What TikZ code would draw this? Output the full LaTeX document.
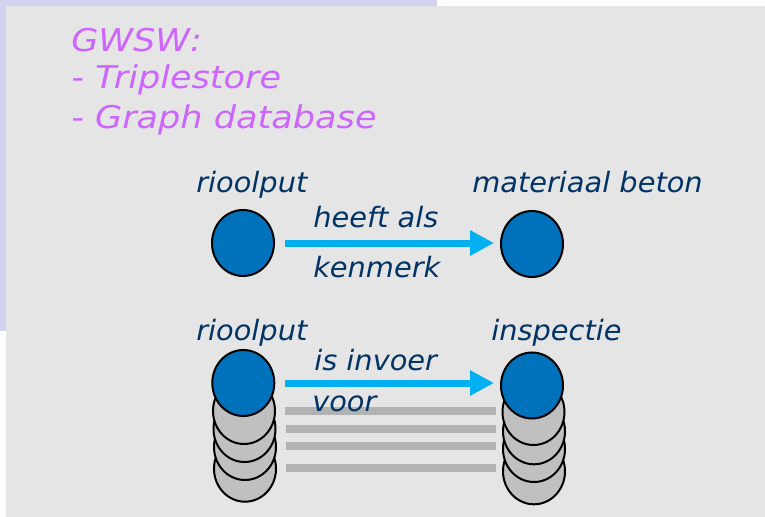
\documentclass[tikz,border=0pt]{standalone}
\usepackage{fontspec}
\newfontfamily\titlefont[FakeStretch=1.12]{DejaVu Sans}
\newfontfamily\lblfont[FakeStretch=1.03]{DejaVu Sans}
\usetikzlibrary{shapes.geometric,arrows.meta}
\definecolor{lav}{RGB}{210,210,240}
\definecolor{bg}{RGB}{229,229,229}
\definecolor{ttl}{RGB}{204,102,255}
\definecolor{lblc}{RGB}{0,51,102}
\definecolor{nodeblue}{RGB}{0,114,188}
\definecolor{arr}{RGB}{0,176,240}
\definecolor{stackgray}{RGB}{192,192,192}
\definecolor{bargray}{RGB}{178,178,178}
\begin{document}
\begin{tikzpicture}[x=0.75pt,y=-0.75pt,
  ttlnode/.style={anchor=base west, inner sep=0, text=ttl, font=\titlefont\itshape\fontsize{23.5pt}{28pt}\selectfont},
  lbl/.style={anchor=base west, inner sep=0, text=lblc, font=\lblfont\itshape\fontsize{21pt}{25pt}\selectfont},
  res/.style={ellipse, draw=black, line width=1.5pt, minimum width=46.5pt, minimum height=49.5pt, inner sep=0pt, fill=nodeblue},
  hist/.style={res, fill=stackgray},
  rel/.style={arr, line width=5.25pt, -{Triangle[length=18pt,width=18pt]}},
  barline/.style={bargray, line width=6pt, shorten <=6.75pt, shorten >=4pt}
]
\useasboundingbox (0,0) rectangle (765,517);
\fill[lav] (0,0) rectangle (437,331);
\fill[bg] (6,6) rectangle (765,517);

% title
\node[ttlnode] (t1) at (71,52) {GWSW:};
\node[ttlnode] (t2) at (71,89) {- Triplestore};
\node[ttlnode] (t3) at (71,128) {- Graph database};

% row 1
\node[res] (a1) at (243,243) {};
\node[res] (b1) at (532,244) {};
\draw[rel] ([xshift=7.5pt]a1.east) -- ([xshift=-4.5pt]a1.east -| b1.west);
\node[lbl] (la1) at (196,193) {rioolput};
\node[lbl] (lb1) at (472,193) {materiaal beton};
\node[lbl] (r1a) at (313,228) {heeft als};
\node[lbl] (r1b) at (313,277) {kenmerk};

% row 2 stacks
\node[hist] (g14) at (245,468.7) {};
\node[hist] (g13) at (245,447) {};
\node[hist] (g12) at (244.5,429) {};
\node[hist] (g11) at (244,411) {};
\node[res] (a2) at (243.3,383) {};
\node[hist] (g24) at (534,471.3) {};
\node[hist] (g23) at (534,449) {};
\node[hist] (g22) at (534,431.3) {};
\node[hist] (g21) at (533.5,412) {};
\node[res] (b2) at (532,385.5) {};

% bars
\draw[barline] (g11.east) -- (g11.east -| g21.west);
\draw[barline] (g12.east) -- (g12.east -| g21.west);
\draw[barline] ([yshift=0.5pt]g13.east) -- ([yshift=0.5pt]g13.east -| g21.west);
\draw[barline] ([yshift=0.3pt]g14.east) -- ([yshift=0.3pt]g14.east -| g21.west);

\draw[rel] ([xshift=7.5pt]a2.east) -- ([xshift=-4.5pt]a2.east -| b2.west);
\node[lbl] (la2) at (196,340.5) {rioolput};
\node[lbl] (lb2) at (491,340.5) {inspectie};
\node[lbl] (r2a) at (314,370) {is invoer};
\node[lbl] (r2b) at (312,411.5) {voor};
\end{tikzpicture}
\end{document}
